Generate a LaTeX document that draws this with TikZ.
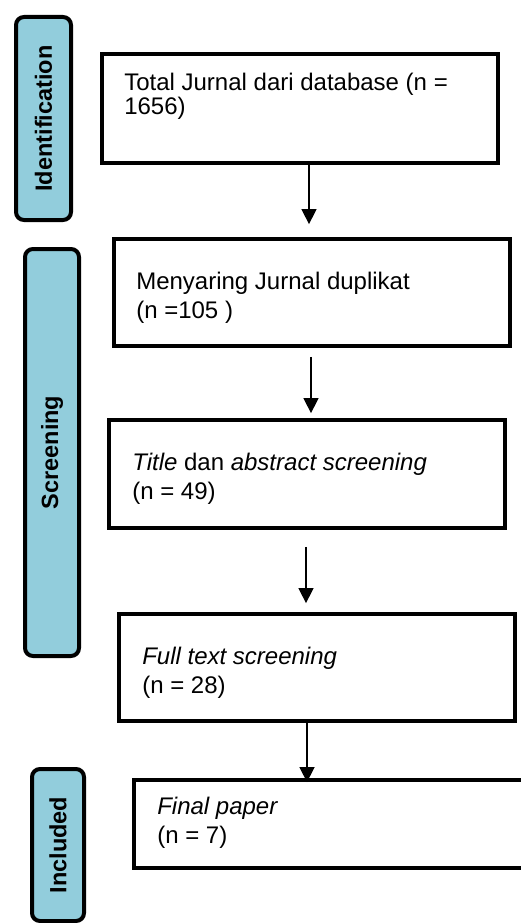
\documentclass[tikz,border=0pt]{standalone}
\usepackage{fontspec}
\setmainfont{Liberation Sans}
\usetikzlibrary{arrows.meta}
\definecolor{stageblue}{HTML}{92CDDC}

\begin{document}
\begin{tikzpicture}[x=1pt, y=-1pt,
    stage/.style={rectangle, draw, line width=4pt, rounded corners=8pt, fill=stageblue, inner sep=0pt, rotate=90, font=\fontsize{23.5}{28}\selectfont\bfseries},
    stepbox/.style={rectangle, draw, line width=3.8pt, minimum width=396pt, inner sep=0pt},
    txt/.style={anchor=north west, inner sep=0pt, align=left, font=\fontsize{24}{28.5}\selectfont},
    arr/.style={-{Triangle[length=15pt, width=15pt]}, line width=1.5pt}]
    \useasboundingbox (0,0) rectangle (520,923);
    %stage labels
    \node[stage, minimum width=203pt, minimum height=55pt] at (43.5,118.5) (ident){Identification};
    \node[stage, minimum width=407pt, minimum height=54pt] at (52,452.5) (screen){Screening};
    \node[stage, minimum width=152pt, minimum height=52pt] at (58,845) (incl){Included};
    %boxes
    \node[stepbox, minimum height=109pt] at (300,108.5) (b1){};
    \node[stepbox, minimum height=107pt] at (312,292.5) (b2){};
    \node[stepbox, minimum height=108pt] at (307,474) (b3){};
    \node[stepbox, minimum height=107pt] at (317,667.5) (b4){};
    \node[stepbox, minimum height=88pt] at (332,824) (b5){};
    %box texts
    \node[txt, font=\fontsize{24}{24}\selectfont] at ([xshift=24pt, yshift=-21pt]b1.north west) (t1){Total Jurnal dari database (n =\\1656)};
    \node[txt] at ([xshift=24pt, yshift=-35pt]b2.north west) (t2){Menyaring Jurnal duplikat\\(n =105 )};
    \node[txt] at ([xshift=25pt, yshift=-35pt]b3.north west) (t3){\textit{Title} dan \textit{abstract screening}\\(n = 49)};
    \node[txt] at ([xshift=25pt, yshift=-35pt]b4.north west) (t4){\textit{Full text screening}\\(n = 28)};
    \node[txt] at ([xshift=25pt, yshift=-19pt]b5.north west) (t5){\textit{Final paper}\\(n = 7)};
    %arrows
    \draw[arr] ([xshift=9pt]b1.south) -- ([xshift=-3pt, yshift=13pt]b2.north);
    \draw[arr] ([xshift=-1pt, yshift=-9pt]b2.south) -- ([xshift=4pt, yshift=5pt]b3.north);
    \draw[arr] ([xshift=-1pt, yshift=-17pt]b3.south) -- ([xshift=-11pt, yshift=9pt]b4.north);
    \draw[arr] ([xshift=-10pt]b4.south) -- ([xshift=-25pt, yshift=-4pt]b5.north);
\end{tikzpicture}
\end{document}
